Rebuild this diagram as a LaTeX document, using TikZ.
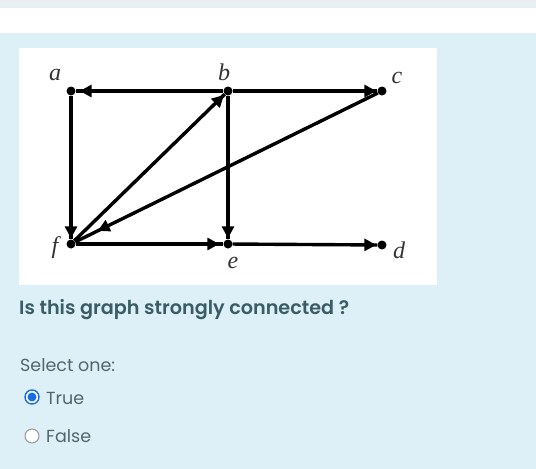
\documentclass[tikz,border=0pt]{standalone}
\usepackage{fontspec}
\setmainfont{Poppins}
\newfontfamily\popsemi{Poppins}[UprightFont=* SemiBold]
\newfontfamily\serifit{Liberation Serif}
\usetikzlibrary{arrows.meta,decorations.markings}
\definecolor{bgblue}{HTML}{DEF0F7}
\definecolor{topgray}{HTML}{EAEFF1}
\definecolor{qcol}{HTML}{3A5C64}
\definecolor{txtcol}{HTML}{52666D}
\definecolor{radioblue}{HTML}{1A6FE0}
\definecolor{labcol}{HTML}{333333}
\tikzset{
  dot/.style={circle,fill=black,inner sep=0pt,minimum size=9pt},
  lab/.style={font=\serifit\itshape\fontsize{24}{26}\selectfont,text=labcol,inner sep=0pt},
  edge/.style={line width=3.4pt,postaction={decorate},
    decoration={markings,mark=at position #1 with {\arrow{Triangle[length=12pt,width=12pt]}}}},
  ans/.style={anchor=west,font=\fontsize{17.5}{20}\selectfont,text=txtcol,inner sep=0pt}
}
\begin{document}
\begin{tikzpicture}[x=1pt,y=-1pt]
\useasboundingbox (0,0) rectangle (536,469);
\fill[bgblue] (0,0) rectangle (536,469);
\fill[topgray] (0,0) rectangle (536,7);
\fill[white] (0,8) rectangle (536,33);
\fill[white] (19,48) rectangle (437,285);
% vertices
\node[dot] (a) at (71,91) {};
\node[dot] (b) at (228,91) {};
\node[dot] (c) at (382,91) {};
\node[dot] (f) at (71,244) {};
\node[dot] (e) at (228,244) {};
\node[dot] (d) at (382,245) {};
% labels
\node[lab] (la) at (55,75) {a};
\node[lab] (lb) at (224,72) {b};
\node[lab] (lc) at (397,78) {c};
\node[lab] (lf) at (55,248) {f};
\node[lab] (le) at (233,263) {e};
\node[lab] (ld) at (399,250) {d};
% edges
\draw[edge=-4pt] (b) -- (a);
\draw[edge=-1pt] (b) -- (c);
\draw[edge=-1pt] (a) -- (f);
\draw[edge=-1pt] (f) -- (b);
\draw[edge=-25pt] (c) -- (f);
\draw[edge=-1pt] (b) -- (e);
\draw[edge=-4pt] (f) -- (e);
\draw[edge=-1pt] (e) -- (d);
% question
\node[anchor=west,font=\popsemi\fontsize{19.2}{22}\selectfont,text=qcol,inner sep=0pt] (q) at (19,310) {Is this graph strongly connected ?};
\node[ans] (sel) at (20,365) {Select one:};
\node[circle,draw=radioblue,line width=1.4pt,fill=white,minimum size=14pt,inner sep=0pt] (r1) at (32,397) {};
\fill[radioblue] (r1.center) circle (4.5pt);
\node[ans] (t) at (46,398) {True};
\node[circle,draw=gray!80,line width=1pt,fill=white,minimum size=14pt,inner sep=0pt] (r2) at (32,436) {};
\node[ans] (fl) at (46,436) {False};
\end{tikzpicture}
\end{document}
